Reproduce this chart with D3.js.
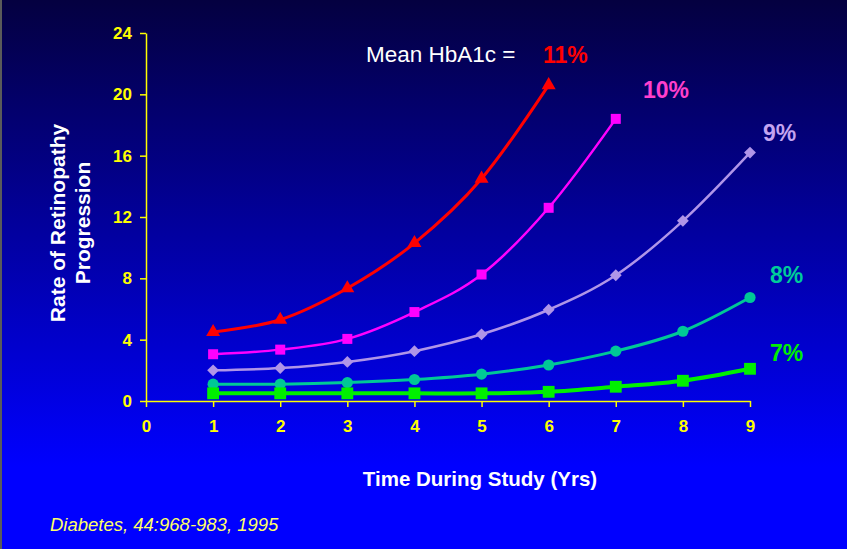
<!DOCTYPE html>
<html>
<head>
<meta charset="utf-8">
<script src="https://cdn.jsdelivr.net/npm/d3@7/dist/d3.min.js"></script>
<style>
  html, body { margin: 0; padding: 0; background: #0000ff; }
  svg { display: block; }
  text { font-family: "Liberation Sans", Arial, sans-serif; }
</style>
</head>
<body>
<svg id="chart" width="847" height="549"></svg>
<script>
// ---- data ----
const years = [1, 2, 3, 4, 5, 6, 7, 8, 9];
const xTicks = [0, 1, 2, 3, 4, 5, 6, 7, 8, 9];
const yTicks = [0, 4, 8, 12, 16, 20, 24];
const seriesNames = ["11%", "10%", "9%", "8%", "7%"];
const hba11 = [4.5, 5.3, 7.35, 10.3, 14.5, 20.6];
const hba10 = [3.05, 3.35, 4.05, 5.8, 8.25, 12.6, 18.4];
const hba9 = [2.0, 2.15, 2.55, 3.25, 4.35, 5.95, 8.2, 11.75, 16.2];
const hba8 = [1.1, 1.1, 1.2, 1.4, 1.75, 2.35, 3.25, 4.55, 6.75];
const hba7 = [0.5, 0.5, 0.5, 0.5, 0.5, 0.6, 0.93, 1.32, 2.1];
const titleText = "Mean HbA1c =";
const xTitle = "Time During Study (Yrs)";
const yTitle = ["Rate of Retinopathy", "Progression"];
const source = "Diabetes, 44:968-983, 1995";

// ---- styles ----
const styles = [
  { values: hba11, line: "#ff0000", label: "#ff0000", width: 3, symbol: d3.symbolTriangle, size: 85, rot: 0, lx: 543, ly: 63 },
  { values: hba10, line: "#ff00ff", label: "#ff3fcc", width: 2.5, symbol: d3.symbolSquare, size: 100, rot: 0, lx: 643, ly: 98 },
  { values: hba9, line: "#b095e8", label: "#c4a4f0", width: 2.5, symbol: d3.symbolSquare, size: 70, rot: 45, lx: 763, ly: 141 },
  { values: hba8, line: "#00c896", label: "#00cc99", width: 3, symbol: d3.symbolCircle, size: 98, rot: 0, lx: 770, ly: 283 },
  { values: hba7, line: "#00f000", label: "#00ee00", width: 4, symbol: d3.symbolSquare, size: 140, rot: 0, lx: 770, ly: 361 }
];

const svg = d3.select("#chart");
const W = 847, H = 549;

// background gradient
const defs = svg.append("defs");
const grad = defs.append("linearGradient").attr("id", "bg").attr("x1", 0).attr("y1", 0).attr("x2", 0).attr("y2", 1);
grad.append("stop").attr("offset", "0%").attr("stop-color", "#040040");
grad.append("stop").attr("offset", "85%").attr("stop-color", "#0000ff");
grad.append("stop").attr("offset", "100%").attr("stop-color", "#0000ff");
svg.append("rect").attr("width", W).attr("height", H).attr("fill", "url(#bg)");
svg.append("rect").attr("width", 2).attr("height", H).attr("fill", "#5a5a5a");

const x = d3.scaleLinear().domain([0, 9]).range([146, 750]);
const y = d3.scaleLinear().domain([0, 24]).range([401, 33]);

// axes
const yAxis = svg.append("g").attr("transform", `translate(${x(0)},0)`)
  .call(d3.axisLeft(y).tickValues(yTicks).tickSize(6).tickSizeOuter(0).tickPadding(8).tickFormat(d3.format("d")));
const xAxis = svg.append("g").attr("transform", `translate(0,${y(0)})`)
  .call(d3.axisBottom(x).tickValues(xTicks).tickSize(6).tickSizeOuter(0).tickPadding(13).tickFormat(d3.format("d")));
[yAxis, xAxis].forEach(g => {
  g.select(".domain").attr("stroke", "#ffff00").attr("stroke-width", 1.5);
  g.selectAll(".tick line").attr("stroke", "#ffff00").attr("stroke-width", 1.5);
  g.selectAll(".tick text").attr("fill", "#ffff00").attr("font-size", 17).attr("font-weight", "bold")
    .attr("font-family", "'Liberation Sans', Arial, sans-serif");
});

// series
const lineGen = d3.line().curve(d3.curveCardinal.tension(0)).x((d, i) => x(years[i])).y(d => y(d));
styles.forEach((s, k) => {
  const g = svg.append("g");
  g.append("path").attr("d", lineGen(s.values)).attr("fill", "none")
    .attr("stroke", s.line).attr("stroke-width", s.width).attr("stroke-linejoin", "round");
  g.selectAll("path.m").data(s.values).join("path").attr("class", "m")
    .attr("d", d3.symbol().type(s.symbol).size(s.size))
    .attr("transform", (d, i) => `translate(${x(years[i])},${y(d)}) rotate(${s.rot})`)
    .attr("fill", s.line);
  svg.append("text").attr("x", s.lx).attr("y", s.ly).attr("fill", s.label)
    .attr("font-size", 23).attr("font-weight", "bold").text(seriesNames[k]);
});

// title
svg.append("text").attr("x", 366).attr("y", 62).attr("fill", "#ffffff").attr("font-size", 22.5).text(titleText);

// axis titles
svg.append("text").attr("x", 480).attr("y", 486).attr("fill", "#ffffff").attr("font-size", 20.5)
  .attr("font-weight", "bold").attr("text-anchor", "middle").text(xTitle);
const yt = svg.append("text").attr("transform", "translate(65,223) rotate(-90)").attr("fill", "#ffffff")
  .attr("font-size", 21).attr("font-weight", "bold").attr("text-anchor", "middle");
yt.append("tspan").attr("x", 0).attr("y", 0).text(yTitle[0]);
yt.append("tspan").attr("x", 0).attr("y", 25).text(yTitle[1]);

// source
svg.append("text").attr("x", 50).attr("y", 531).attr("fill", "#ffff66").attr("font-size", 18.5)
  .attr("font-style", "italic").text(source);
</script>
</body>
</html>
